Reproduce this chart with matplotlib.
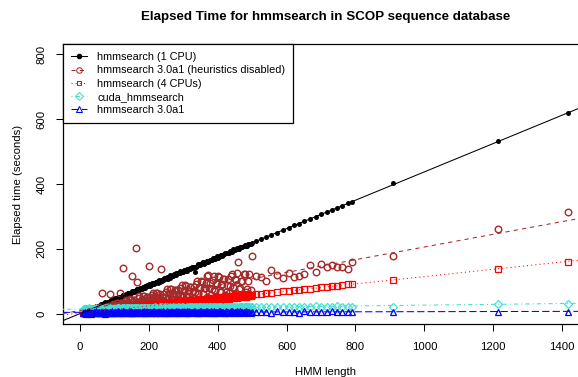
import numpy as np
import matplotlib
matplotlib.use("Agg")
import matplotlib.pyplot as plt
from matplotlib.lines import Line2D

plt.rcParams['font.family'] = ['Liberation Sans', 'DejaVu Sans']

# HMM lengths (same HMMs for every program) and elapsed times in seconds
hmm_len = [10, 13, 17, 21, 25, 29, 33, 36, 40, 44,
           48, 52, 55, 59, 63, 67, 71, 74, 78, 82,
           86, 90, 93, 97, 101, 105, 109, 112, 116, 120,
           124, 128, 131, 135, 139, 143, 147, 150, 154, 158,
           162, 166, 169, 173, 177, 181, 185, 188, 192, 196,
           200, 204, 208, 212, 216, 220, 224, 228, 232, 236,
           240, 244, 248, 252, 257, 261, 265, 269, 273, 278,
           282, 286, 290, 295, 299, 303, 308, 312, 317, 321,
           326, 330, 335, 340, 344, 349, 354, 358, 363, 368,
           373, 378, 383, 388, 393, 398, 403, 409, 414, 419,
           425, 430, 436, 442, 448, 454, 460, 466, 472, 478,
           485, 492, 500,
           11, 15, 19, 23, 27, 31, 34, 38, 42, 46,
           50, 53, 57, 61, 65, 69, 72, 76, 80, 84,
           88, 91, 95, 99, 103, 107, 110, 114, 118, 122,
           126, 129, 133, 137, 141, 145, 148, 152, 156, 160,
           164, 167, 171, 175, 179, 183, 186, 190, 194, 198,
           202, 206, 210, 214, 218, 222, 226, 230, 234, 238,
           242, 246, 250, 255, 259, 263, 267, 271, 275, 280,
           284, 288, 292, 297, 301, 305, 310, 315, 319, 323,
           328, 332, 337, 342, 346, 351, 356, 360, 365, 370,
           375, 380, 385, 390, 395, 400, 406, 411, 416, 422,
           427, 433, 439, 445, 451, 457, 463, 469, 475, 481,
           488, 496,
           512, 526, 541, 555, 572, 589, 606, 622, 636, 652, 668, 684, 701, 716, 731, 746,
           762, 777, 791, 908, 1213, 1416]

t_1cpu = [5, 4, 9, 9, 10, 16, 12, 17, 15, 21,
          23, 22, 21, 27, 30, 27, 31, 35, 33, 34,
          38, 41, 39, 45, 43, 43, 49, 51, 49, 52,
          57, 55, 55, 60, 63, 60, 64, 68, 66, 70,
          69, 75, 74, 73, 80, 78, 82, 80, 86, 86,
          88, 86, 93, 93, 92, 99, 97, 101, 98, 105,
          104, 109, 106, 113, 112, 111, 117, 117, 121, 120,
          125, 125, 124, 130, 130, 135, 133, 138, 139, 137,
          144, 142, 128, 148, 152, 150, 155, 158, 157, 162,
          160, 167, 167, 171, 170, 177, 175, 181, 178, 183,
          188, 187, 194, 191, 196, 199, 198, 206, 205, 212,
          210, 216, 219,
          3, 8, 11, 9, 12, 11, 17, 16, 19, 22,
          23, 20, 25, 29, 27, 33, 30, 33, 37, 36,
          38, 42, 39, 44, 48, 45, 48, 52, 51, 54,
          57, 55, 59, 57, 64, 63, 63, 69, 67, 71,
          72, 76, 73, 78, 77, 82, 78, 84, 87, 86,
          91, 88, 92, 96, 94, 98, 96, 103, 102, 102,
          105, 110, 110, 108, 113, 118, 115, 119, 119, 124,
          125, 124, 131, 130, 131, 135, 133, 139, 141, 140,
          145, 145, 145, 151, 154, 152, 158, 154, 160, 163,
          162, 167, 171, 169, 173, 172, 179, 181, 180, 187,
          187, 187, 193, 198, 196, 202, 199, 205, 210, 209,
          214, 215,
          224, 230, 236, 243, 250, 257, 265, 272, 278, 285, 292, 299, 306, 313, 319, 326,
          333, 340, 346, 403, 533, 619]

t_noheur = [5, 6, 6, 9, 7, 9, 12, 9, 11, 14,
            10, 15, 13, 20, 65, 18, 22, 15, 19, 24,
            61, 25, 21, 31, 20, 26, 32, 21, 65, 33,
            142, 34, 28, 42, 27, 34, 43, 117, 35, 42,
            203, 98, 35, 53, 33, 43, 53, 33, 43, 52,
            147, 52, 42, 64, 40, 51, 64, 39, 52, 138,
            39, 62, 50, 76, 47, 60, 75, 46, 60, 73,
            45, 72, 58, 89, 54, 70, 86, 53, 70, 83,
            52, 82, 67, 102, 61, 80, 99, 60, 79, 117,
            119, 94, 76, 116, 70, 91, 112, 68, 90, 108,
            67, 106, 86, 122, 79, 103, 160, 78, 102, 122,
            76, 121, 179,
            5, 5, 8, 7, 9, 12, 8, 11, 14, 9,
            13, 10, 18, 14, 18, 22, 15, 19, 23, 14,
            21, 16, 28, 21, 27, 33, 21, 27, 32, 19,
            28, 21, 38, 28, 35, 44, 27, 35, 42, 24,
            36, 26, 47, 34, 44, 54, 33, 43, 52, 29,
            43, 32, 58, 42, 53, 65, 39, 51, 62, 34,
            51, 37, 68, 49, 63, 77, 46, 60, 72, 39,
            60, 43, 79, 56, 72, 88, 53, 69, 83, 45,
            69, 49, 91, 65, 83, 101, 60, 79, 94, 51,
            78, 56, 103, 73, 94, 115, 68, 89, 107, 58,
            88, 64, 117, 83, 107, 124, 77, 101, 122, 66,
            101, 72,
            116, 114, 100, 134, 119, 109, 126, 112, 116, 123, 151, 129, 153, 145, 150, 143,
            145, 139, 158, 178, 262, 314]

t_4cpu = [2, 3, 2, 4, 3, 5, 4, 6, 5, 7,
          6, 8, 7, 9, 8, 10, 9, 11, 9, 11,
          11, 12, 11, 13, 12, 14, 13, 15, 13, 16,
          15, 16, 15, 17, 16, 18, 17, 19, 18, 20,
          19, 21, 19, 22, 20, 23, 21, 23, 22, 24,
          23, 25, 24, 26, 24, 27, 25, 28, 26, 29,
          27, 30, 28, 31, 29, 32, 30, 33, 31, 34,
          32, 35, 33, 36, 33, 37, 35, 38, 36, 39,
          37, 40, 38, 41, 39, 42, 40, 43, 41, 44,
          42, 45, 43, 46, 44, 48, 45, 49, 46, 50,
          48, 51, 49, 52, 50, 54, 52, 55, 53, 56,
          55, 58, 57,
          3, 2, 4, 3, 5, 4, 6, 4, 7, 5,
          9, 6, 9, 6, 9, 7, 11, 9, 12, 9,
          14, 9, 14, 9, 16, 11, 16, 12, 17, 12,
          18, 13, 19, 15, 21, 14, 21, 16, 23, 16,
          24, 17, 23, 17, 25, 19, 26, 20, 27, 19,
          28, 20, 29, 22, 31, 22, 31, 24, 32, 24,
          32, 25, 33, 26, 34, 27, 35, 28, 36, 29,
          37, 30, 38, 31, 39, 32, 40, 33, 41, 34,
          42, 35, 43, 36, 44, 37, 45, 38, 46, 39,
          47, 40, 48, 41, 50, 42, 51, 43, 52, 45,
          53, 46, 55, 47, 56, 48, 57, 50, 59, 51,
          60, 53,
          60, 61, 63, 65, 67, 69, 70, 72, 74, 76, 77, 79, 81, 83, 85, 86,
          88, 90, 90, 104, 138, 160]

t_cuda = [12, 14, 13, 15, 12, 14, 13, 15, 14, 12,
          14, 13, 15, 14, 12, 15, 13, 14, 16, 13,
          15, 14, 13, 16, 14, 15, 13, 16, 14, 15,
          16, 14, 15, 17, 14, 16, 15, 17, 14, 16,
          15, 17, 16, 14, 17, 15, 16, 18, 15, 17,
          16, 18, 15, 17, 16, 18, 15, 17, 19, 16,
          18, 16, 17, 19, 16, 18, 17, 19, 16, 18,
          17, 19, 16, 18, 20, 17, 18, 16, 19, 17,
          19, 17, 18, 20, 17, 19, 18, 20, 17, 19,
          18, 20, 17, 19, 21, 18, 20, 19, 17, 20,
          19, 21, 18, 20, 19, 21, 18, 20, 22, 19,
          20, 21, 19,
          13, 15, 12, 14, 16, 13, 15, 12, 14, 16,
          13, 15, 14, 16, 13, 15, 17, 14, 15, 13,
          16, 14, 15, 17, 13, 16, 15, 17, 14, 16,
          15, 17, 14, 16, 18, 15, 17, 16, 14, 17,
          16, 18, 15, 17, 16, 14, 18, 16, 17, 15,
          17, 15, 18, 16, 19, 17, 16, 18, 17, 19,
          17, 19, 16, 18, 17, 20, 18, 16, 19, 17,
          18, 20, 17, 19, 18, 16, 20, 18, 19, 21,
          18, 20, 19, 17, 21, 19, 18, 20, 21, 18,
          20, 19, 21, 18, 20, 22, 19, 21, 18, 20,
          21, 19, 22, 20, 18, 21, 20, 22, 19, 21,
          20, 22,
          20, 22, 19, 21, 20, 22, 21, 19, 22, 20, 21, 23, 20, 22, 21, 23,
          21, 22, 20, 20, 30, 31]

t_hmmer3 = [1, 3, 0, 4, 2, 5, 1, 3, 6, 2,
            4, 1, 5, 3, 7, 2, 4, 0, 6, 3,
            5, 2, 7, 1, 4, 6, 3, 8, 2, 5,
            3, 7, 1, 5, 4, 8, 2, 6, 3, 5,
            7, 2, 4, 6, 1, 5, 8, 3, 6, 2,
            5, 7, 3, 4, 8, 2, 6, 5, 1, 7,
            4, 6, 2, 8, 5, 3, 7, 4, 6, 2,
            5, 8, 3, 6, 4, 7, 2, 5, 8, 3,
            6, 4, 7, 2, 5, 8, 3, 6, 4, 7,
            5, 2, 6, 8, 3, 5, 7, 4, 6, 3,
            7, 4, 5, 8, 3, 6, 4, 7, 5, 3,
            6, 4, 5,
            2, 4, 1, 5, 3, 0, 6, 2, 4, 7,
            3, 5, 1, 6, 2, 4, 8, 3, 1, 5,
            6, 3, 4, 2, 7, 5, 1, 6, 4, 3,
            8, 4, 6, 2, 5, 3, 7, 1, 5, 6,
            3, 6, 8, 4, 2, 7, 5, 3, 8, 4,
            6, 1, 5, 7, 3, 6, 4, 8, 2, 5,
            7, 3, 5, 1, 6, 4, 8, 3, 5, 7,
            2, 6, 4, 7, 3, 5, 8, 1, 6, 4,
            5, 8, 3, 6, 2, 7, 4, 5, 8, 3,
            4, 7, 2, 6, 5, 3, 8, 4, 6, 2,
            6, 3, 7, 5, 4, 8, 2, 6, 4, 7,
            5, 3,
            4, 6, 5, 3, 7, 4, 6, 5, 3, 7, 4, 6, 5, 4, 7, 5,
            4, 6, 5, 5, 5, 5]

labels = ["hmmsearch (1 CPU)", "hmmsearch 3.0a1 (heuristics disabled)",
          "hmmsearch (4 CPUs)", "cuda_hmmsearch", "hmmsearch 3.0a1"]
times = [t_1cpu, t_noheur, t_4cpu, t_cuda, t_hmmer3]
colors = ["black", "#A52A2A", "red", "#40E0D0", "blue"]
markers = ["o", "o", "s", "D", "^"]
dashes = [None, (4, 4), (1, 3), (1, 3, 4, 3), (7, 3)]
msizes = [3.6, 4.7, 4.2, 4.3, 4.9]
edge_w = [0, 1.0, 0.9, 0.85, 0.9]

fig = plt.figure(figsize=(5.78, 3.77), dpi=100)
ax = fig.add_axes([63 / 578, 53 / 377, 525 / 578, 280 / 377])

x = np.array(hmm_len)
handles = []
for i in range(len(labels)):
    y = np.array(times[i])
    col = colors[i]
    if i == 0:
        ax.plot(x, y, linestyle="none", marker="o", ms=msizes[i], color=col,
                mew=0, zorder=2)
    else:
        ax.plot(x, y, linestyle="none", marker=markers[i], ms=msizes[i], mfc="none",
                mec=col, mew=edge_w[i], zorder=2 + i)
    # least-squares line, like abline(lm(...))
    b1, b0 = np.polyfit(x, y, 1)
    kw = dict(color=col, lw=0.75, zorder=10)
    if dashes[i] is not None:
        kw["dashes"] = dashes[i]
    ax.axline((0, b0), slope=b1, **kw)
    hkw = dict(color=col, lw=0.75, marker=markers[i],
               ms=3.2 if i == 0 else msizes[i] * 0.85,
               mfc=col if i == 0 else "none", mec=col, mew=0.75)
    if dashes[i] is not None:
        hkw["dashes"] = dashes[i]
    handles.append(Line2D([], [], label=labels[i], **hkw))

ax.set_xlim(-49, 1475)
ax.set_ylim(-32, 832)
ax.set_xticks(range(0, 1401, 200))
ax.set_yticks(range(0, 801, 200))
ax.tick_params(axis="both", direction="out", length=5, width=0.75, labelsize=8.2, color="black")
ax.tick_params(axis="x", pad=8)
ax.tick_params(axis="y", pad=7)
for lab in ax.get_yticklabels():
    lab.set_rotation(90)
    lab.set_va("center")
for s in ax.spines.values():
    s.set_linewidth(0.9)

leg = ax.legend(handles=handles, loc="upper left", bbox_to_anchor=(0, 1),
                borderaxespad=0, fancybox=False, framealpha=1, edgecolor="black",
                fontsize=7.8, handlelength=1.5, handletextpad=0.9, labelspacing=0.3,
                borderpad=0.75, numpoints=1)
leg.get_frame().set_linewidth(0.9)
leg.set_zorder(20)

fig.text(325.5 / 578, 1 - 17 / 377, "Elapsed Time for hmmsearch in SCOP sequence database",
         ha="center", va="center", fontsize=9.6, fontweight="bold")
fig.text(18 / 578, 1 - 184 / 377, "Elapsed time (seconds)", rotation=90,
         ha="center", va="center", fontsize=8.2)
fig.text(325.5 / 578, 1 - 372 / 377, "HMM length", ha="center", va="center", fontsize=8.2)

fig.savefig("out.png", dpi=100)
